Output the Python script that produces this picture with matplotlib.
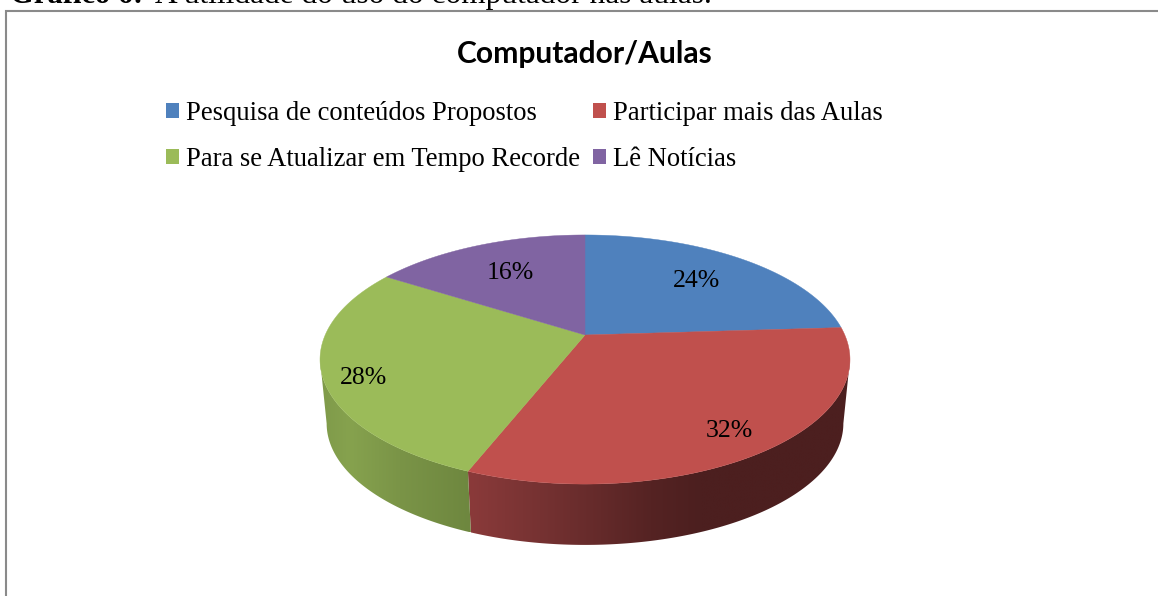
import numpy as np
import matplotlib
matplotlib.use("Agg")
import matplotlib.pyplot as plt
from matplotlib.patches import Polygon, Patch

categories = ["Pesquisa de conteúdos Propostos", "Participar mais das Aulas",
              "Para se Atualizar em Tempo Recorde", "Lê Notícias"]
values = [24, 32, 28, 16]
colors = ["#4F81BD", "#C0504D", "#9BBB59", "#8064A2"]
label_radius = [0.70, 0.83, 0.86, 0.683]
label_shift = [-0.8, 0.6, -3.4, 0.8]
title = "Computador/Aulas"
caption_bold = "Gráfico 6:"
caption_rest = "A utilidade do uso do computador nas aulas."

SERIF = "Liberation Serif"
W, H = 1158, 596
fig = plt.figure(figsize=(W / 100, H / 100), dpi=100, facecolor="white")
ax = fig.add_axes([0, 0, 1, 1])
ax.axis("off")

# perspective projection of the unit disc
CX, CY, K, A, C = 585.0, 335.0, 259.8, -53.8, 0.1968
ELL_CY, DEPTH, SHRINK = 358.0, 64.0, 0.975
TANGENT = np.degrees(np.arccos(-C))  # angle of the widest point of the disc image


def top_pt(r, deg):
    t = np.radians(deg)
    x, y = r * np.sin(t), r * np.cos(t)
    d = 1 + C * y
    return CX + K * x / d, (CY + A * y) / d


def bot_pt(deg):
    x, y = top_pt(1.0, deg)
    return CX + SHRINK * (x - CX), ELL_CY + DEPTH + SHRINK * (y - ELL_CY)


def hex2rgb(h):
    return np.array(matplotlib.colors.to_rgb(h))


red_x = [470, 540, 600, 650, 700, 1000]
red_c = [hex2rgb(c) for c in ["#8A3A3A", "#763232", "#642A2A", "#552323", "#4C1F1F", "#4C1F1F"]]
green_x = [320, 350, 400, 470]
green_c = [hex2rgb(c) for c in ["#7F9A4A", "#86A24E", "#7A9447", "#6E873F"]]
wall_tables = {1: (red_x, red_c), 2: (green_x, green_c)}

edges = np.concatenate([[0], np.cumsum(values)]) / sum(values) * 360.0

# side wall (front part only), a horizontal gradient clipped to each sector
for i, (xs, cs) in wall_tables.items():
    a0, a1 = max(edges[i], TANGENT), min(edges[i + 1], 360 - TANGENT)
    th = np.linspace(a0, a1, 300)
    pts = [top_pt(1, t) for t in th] + [bot_pt(t) for t in th[::-1]]
    clip = Polygon(pts, closed=True, facecolor="none", edgecolor="none", transform=ax.transData)
    ax.add_patch(clip)
    px = np.array(pts)
    x0, x1 = px[:, 0].min(), px[:, 0].max()
    gx = np.linspace(x0, x1, 512)
    grad = np.stack([np.interp(gx, xs, [c[k] for c in cs]) for k in range(3)], axis=-1)[None, :, :]
    im = ax.imshow(grad, extent=(x0, x1, px[:, 1].max(), px[:, 1].min()), aspect="auto",
                   interpolation="bilinear", zorder=2)
    im.set_clip_path(clip)

ax.set_xlim(0, W)
ax.set_ylim(H, 0)

# top face
for i in range(len(values)):
    th = np.linspace(edges[i], edges[i + 1], 200)
    pts = [top_pt(1, t) for t in th] + [(CX, CY)]
    ax.add_patch(Polygon(pts, closed=True, facecolor=colors[i], edgecolor=colors[i], lw=0.3, zorder=3))

# percentage labels
for i, v in enumerate(values):
    mid = 0.5 * (edges[i] + edges[i + 1]) + label_shift[i]
    x, y = top_pt(label_radius[i], mid)
    ax.text(x, y + 2.5, f"{v}%", fontsize=18.5, family=SERIF, color="black",
            ha="center", va="center", zorder=5)

# frame, open at the right and bottom edges
ax.plot([6, 6, W + 5], [H + 5, 10.5, 10.5], color="#8A8A8A", lw=1.5,
        solid_joinstyle="miter", zorder=1)

# caption cut by the top of the picture
ax.text(10, 3, caption_bold, fontsize=22, family=SERIF, weight="bold", va="baseline", ha="left", clip_on=False)
ax.text(155, 3, caption_rest, fontsize=22.6, family=SERIF, va="baseline", ha="left", clip_on=False)

ax.text(585, 54.5, title, fontsize=21.6, family="Lato", weight="bold", ha="center", va="center")

handles = [Patch(facecolor=c, edgecolor="none") for c in colors]
order = [0, 2, 1, 3]
leg = ax.legend([handles[i] for i in order], [categories[i] for i in order],
                ncols=2, frameon=False, loc="upper left",
                bbox_to_anchor=(166 / W, 1 - 101 / H),
                prop={"family": SERIF, "size": 19.2},
                handlelength=0.49, handleheight=0.49, handletextpad=0.26,
                columnspacing=0.5, labelspacing=0.79, borderpad=0, borderaxespad=0)

fig.savefig("out.png", dpi=100)
